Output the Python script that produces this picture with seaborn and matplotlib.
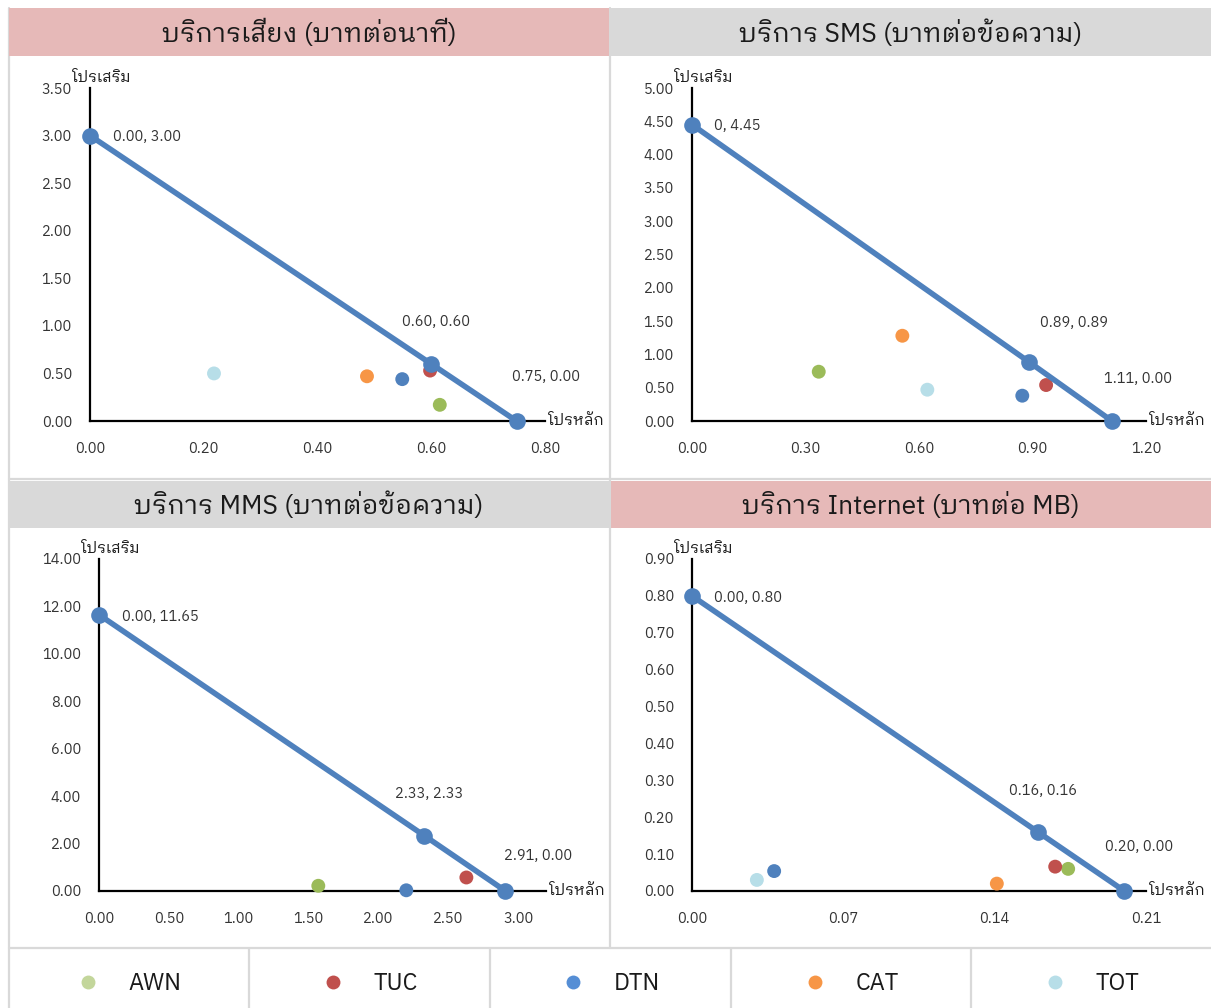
import matplotlib
matplotlib.use("Agg")
import matplotlib.pyplot as plt
from matplotlib.patches import Rectangle
from matplotlib.lines import Line2D
from matplotlib.ticker import FormatStrFormatter
import numpy as np
import pandas as pd
import seaborn as sns

# ---------------------------------------------------------------- data
operators = ["AWN", "TUC", "DTN", "CAT", "TOT"]
op_colors = ["#9bbb59", "#c0504d", "#4f81bd", "#f79646", "#b7dee8"]
legend_colors = ["#c3d69b", "#c0504d", "#558ed5", "#f79646", "#b7dee8"]

titles = [
    "บริการเสียง (บาทต่อนาที)",
    "บริการ SMS (บาทต่อข้อความ)",
    "บริการ MMS (บาทต่อข้อความ)",
    "บริการ Internet (บาทต่อ MB)",
]
x_name = "โปรหลัก"
y_name = "โปรเสริม"

# price frontier: main-plan price vs add-on price
voice_front_x = [0.00, 0.60, 0.75]
voice_front_y = [3.00, 0.60, 0.00]
sms_front_x = [0.00, 0.89, 1.11]
sms_front_y = [4.45, 0.89, 0.00]
mms_front_x = [0.00, 2.33, 2.91]
mms_front_y = [11.65, 2.33, 0.00]
net_front_x = [0.00, 0.16, 0.20]
net_front_y = [0.80, 0.16, 0.00]

# operators (order: AWN, TUC, DTN, CAT, TOT)
voice_main = [0.615, 0.598, 0.549, 0.487, 0.218]
voice_extra = [0.17, 0.53, 0.44, 0.47, 0.50]
sms_main = [0.335, 0.936, 0.873, 0.556, 0.622]
sms_extra = [0.74, 0.54, 0.38, 1.28, 0.47]
mms_main = [1.57, 2.63, 2.20, np.nan, np.nan]
mms_extra = [0.22, 0.57, 0.03, np.nan, np.nan]
net_main = [0.174, 0.168, 0.038, 0.141, 0.030]
net_extra = [0.060, 0.066, 0.054, 0.020, 0.030]

# tick values
voice_xticks = [0.0, 0.2, 0.4, 0.6, 0.8]
voice_yticks = [0.0, 0.5, 1.0, 1.5, 2.0, 2.5, 3.0, 3.5]
sms_xticks = [0.0, 0.3, 0.6, 0.9, 1.2]
sms_yticks = [0.0, 0.5, 1.0, 1.5, 2.0, 2.5, 3.0, 3.5, 4.0, 4.5, 5.0]
mms_xticks = [0.0, 0.5, 1.0, 1.5, 2.0, 2.5, 3.0]
mms_yticks = [0.0, 2.0, 4.0, 6.0, 8.0, 10.0, 12.0, 14.0]
net_xticks = [0.0, 0.07, 0.14, 0.21]
net_yticks = [0.0, 0.1, 0.2, 0.3, 0.4, 0.5, 0.6, 0.7, 0.8, 0.9]

# ---------------------------------------------------------------- style
W, H = 1211, 1008
sns.set_theme(style="white")
plt.rcParams["font.family"] = ["IBM Plex Sans Thai Looped", "DejaVu Sans"]
plt.rcParams["axes.unicode_minus"] = False

LINE_BLUE = "#4f81bd"
PINK = "#e6b9b8"
GREY = "#d9d9d9"

fig = plt.figure(figsize=(W / 100, H / 100), dpi=100)
fig.patch.set_facecolor("white")


def fx(px):
    return px / W


def fy(py):
    return 1 - py / H


def hline(y, x0, x1):
    fig.add_artist(Line2D([fx(x0), fx(x1)], [fy(y), fy(y)], color=GREY,
                          lw=1.6, transform=fig.transFigure, zorder=0))


def vline(x, y0, y1):
    fig.add_artist(Line2D([fx(x), fx(x)], [fy(y0), fy(y1)], color=GREY,
                          lw=1.6, transform=fig.transFigure, zorder=0))


# panel grid
vline(9, 8, 1008)
vline(610, 8, 948)
hline(479, 9, 1211)
hline(948, 9, 1211)
for xs in [249, 490, 731, 971]:
    vline(xs, 949, 1008)

panels = [
    dict(title=titles[0], banner=(9, 8, 609, 56), color=PINK,
         rect=(90, 88, 545, 421), xlim=0.8, ylim=3.5,
         xticks=voice_xticks, yticks=voice_yticks,
         fx_=voice_front_x, fy_=voice_front_y,
         main=voice_main, extra=voice_extra,
         fmt=["{:.2f}, {:.2f}"] * 3,
         offs=[(23, -1), (5, 42), (29, 44)]),
    dict(title=titles[1], banner=(611, 8, 1211, 56), color=GREY,
         rect=(692, 88, 1146, 421), xlim=1.2, ylim=5.0,
         xticks=sms_xticks, yticks=sms_yticks,
         fx_=sms_front_x, fy_=sms_front_y,
         main=sms_main, extra=sms_extra,
         fmt=["{:.0f}, {:.2f}", "{:.2f}, {:.2f}", "{:.2f}, {:.2f}"],
         offs=[(22, -1), (45, 39), (26, 42)]),
    dict(title=titles[2], banner=(9, 481, 609, 528), color=GREY,
         rect=(99, 559, 546, 891), xlim=3.2, ylim=14.0,
         xticks=mms_xticks, yticks=mms_yticks,
         fx_=mms_front_x, fy_=mms_front_y,
         main=mms_main, extra=mms_extra,
         fmt=["{:.2f}, {:.2f}"] * 3,
         offs=[(23, -2), (5, 42), (33, 35)]),
    dict(title=titles[3], banner=(611, 481, 1211, 528), color=PINK,
         rect=(692, 559, 1146, 891), xlim=0.21, ylim=0.9,
         xticks=net_xticks, yticks=net_yticks,
         fx_=net_front_x, fy_=net_front_y,
         main=net_main, extra=net_extra,
         fmt=["{:.2f}, {:.2f}"] * 3,
         offs=[(22, -2), (5, 41), (15, 44)]),
]

palette = dict(zip(operators, op_colors))

for p in panels:
    bx0, by0, bx1, by1 = p["banner"]
    fig.add_artist(Rectangle((fx(bx0), fy(by1)), fx(bx1 - bx0), (by1 - by0) / H,
                             facecolor=p["color"], edgecolor="none",
                             transform=fig.transFigure, zorder=1))
    fig.text(fx((bx0 + bx1) / 2), fy((by0 + by1) / 2 + 1), p["title"],
             ha="center", va="center", fontsize=19, color="#1a1a1a", zorder=2)

    l, t, r, b = p["rect"]
    ax = fig.add_axes([fx(l), fy(b), fx(r - l), (b - t) / H])
    ax.set_facecolor("none")

    df = pd.DataFrame({"operator": operators, "main": p["main"],
                       "extra": p["extra"]}).dropna()
    sns.scatterplot(data=df, x="main", y="extra", hue="operator",
                    palette=palette, s=100, linewidth=0, legend=False,
                    clip_on=False, zorder=3, ax=ax)
    sns.lineplot(x=p["fx_"], y=p["fy_"], sort=False, color=LINE_BLUE,
                 lw=4.0, marker="o", markersize=12, markeredgewidth=0,
                 clip_on=False, zorder=4, ax=ax)

    for i, (xv, yv) in enumerate(zip(p["fx_"], p["fy_"])):
        dx, dy = p["offs"][i]
        ax.annotate(p["fmt"][i].format(xv, yv), (xv, yv),
                    xytext=(dx, dy), textcoords="offset pixels",
                    ha="left" if i == 0 else "center", va="center",
                    fontsize=10.5, color="#333333", annotation_clip=False)

    ax.set_xlim(0, p["xlim"])
    ax.set_ylim(0, p["ylim"])
    ax.set_xticks(p["xticks"])
    ax.set_yticks(p["yticks"])
    ax.xaxis.set_major_formatter(FormatStrFormatter("%.2f"))
    ax.yaxis.set_major_formatter(FormatStrFormatter("%.2f"))
    ax.tick_params(axis="both", length=0, labelsize=10.5, labelcolor="#333333")
    ax.tick_params(axis="x", pad=15)
    ax.tick_params(axis="y", pad=13)
    ax.set_xlabel("")
    ax.set_ylabel("")
    sns.despine(ax=ax)
    for s in ["left", "bottom"]:
        ax.spines[s].set_color("black")
        ax.spines[s].set_linewidth(1.6)
    ax.annotate(y_name, (0, 1), xycoords="axes fraction", xytext=(-18, 6),
                textcoords="offset pixels", ha="left", va="baseline",
                fontsize=11, color="#1a1a1a", annotation_clip=False)
    ax.annotate(x_name, (1, 0), xycoords="axes fraction", xytext=(3, 0),
                textcoords="offset pixels", ha="left", va="center",
                fontsize=11, color="#1a1a1a", annotation_clip=False)

# legend row: one entry per cell
cells = [9, 249, 490, 731, 971, 1211]
for i, (name, col) in enumerate(zip(operators, legend_colors)):
    h = Line2D([], [], linestyle="none", marker="o", markersize=10,
               markerfacecolor=col, markeredgewidth=0)
    cx = (cells[i] + cells[i + 1]) / 2
    fig.legend([h], [name], loc="center", bbox_to_anchor=(fx(cx), fy(984)),
               frameon=False, fontsize=17, handlelength=1.0,
               handletextpad=1.2, borderpad=0, labelcolor="#1a1a1a")

fig.savefig("out.png", dpi=100, facecolor="white")
